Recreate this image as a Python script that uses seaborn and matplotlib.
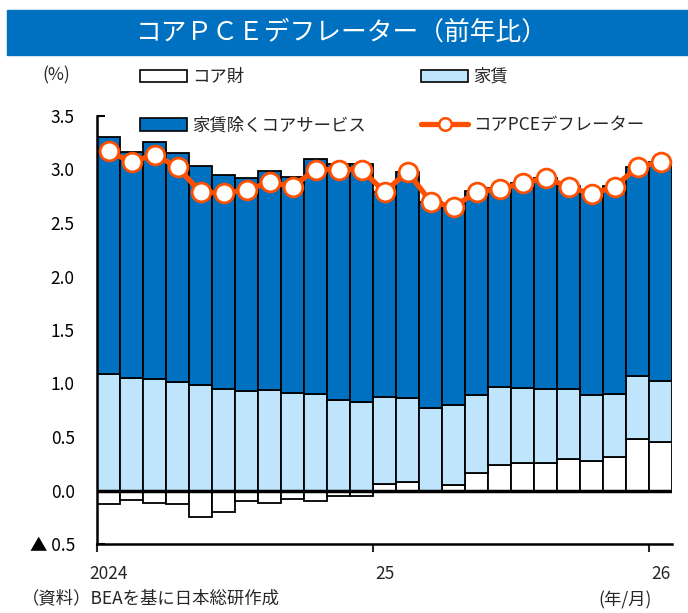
import numpy as np
import pandas as pd
import seaborn as sns
import matplotlib.pyplot as plt
from matplotlib.patches import Patch, Rectangle
from matplotlib.lines import Line2D
from matplotlib.ticker import FuncFormatter

# Data (YoY %, 2024/01 - 2026/01)
months = pd.date_range("2024-01-01", "2026-01-01", freq="MS").strftime("%Y/%m").tolist()
goods = [-0.13, -0.09, -0.12, -0.13, -0.25, -0.20, -0.10, -0.12, -0.08, -0.10, -0.05, -0.05,
         0.06, 0.08, -0.01, 0.05, 0.16, 0.24, 0.26, 0.26, 0.29, 0.28, 0.31, 0.48, 0.45]
rent = [1.09, 1.05, 1.04, 1.01, 0.99, 0.95, 0.93, 0.94, 0.91, 0.90, 0.85, 0.83,
        0.81, 0.78, 0.77, 0.75, 0.73, 0.73, 0.70, 0.69, 0.66, 0.61, 0.59, 0.59, 0.57]
services = [2.21, 2.11, 2.22, 2.14, 2.04, 2.00, 1.99, 2.05, 2.02, 2.20, 2.20, 2.22,
            1.92, 2.12, 1.93, 1.86, 1.91, 1.86, 1.91, 1.97, 1.90, 1.90, 1.95, 1.95, 2.05]
core_pce = [3.17, 3.07, 3.14, 3.02, 2.79, 2.78, 2.81, 2.88, 2.84, 3.00, 3.00, 3.00,
            2.79, 2.98, 2.70, 2.65, 2.79, 2.82, 2.87, 2.92, 2.84, 2.77, 2.84, 3.02, 3.07]
year_labels = ["2024", "25", "26"]
year_pos = [0, 12, 24]

labels = ["コア財", "家賃", "家賃除くコアサービス", "コアPCEデフレーター"]
c_goods, c_rent, c_serv, c_line = "white", "#BEE5FB", "#0070C0", "#FF5000"

df = pd.DataFrame({"month": months, "goods": goods, "rent": rent,
                   "services": services, "core": core_pce})
df["x"] = np.arange(len(df))

sns.set_theme(style="white")
plt.rcParams["font.family"] = ["Noto Sans CJK JP", "DejaVu Sans"]
FS = 12.5

fig = plt.figure(figsize=(6.88, 6.13), dpi=100)
ax = fig.add_axes([97 / 688, 1 - 544 / 613, 575 / 688, 428 / 613])

# stacked bars
rent_bottom = df["goods"].clip(lower=0)
serv_bottom = rent_bottom + df["rent"]
kw = dict(width=1.0, edgecolor="black", linewidth=1.3, zorder=2)
ax.bar(df["x"], df["goods"], color=c_goods, **kw)
ax.bar(df["x"], df["rent"], bottom=rent_bottom, color=c_rent, **kw)
ax.bar(df["x"], df["services"], bottom=serv_bottom, color=c_serv, **kw)

ax.axhline(0, color="black", lw=2.5, zorder=3)

sns.lineplot(data=df, x="x", y="core", ax=ax, color=c_line, lw=3.8,
             marker="o", markersize=13.5, markerfacecolor="white",
             markeredgecolor=c_line, markeredgewidth=2, zorder=4, legend=False)

ax.set_xlim(-0.5, len(df) - 0.5)
ax.set_ylim(-0.5, 3.5)
ax.set_yticks(np.arange(-0.5, 3.51, 0.5))
ax.yaxis.set_major_formatter(FuncFormatter(
    lambda v, p: f"▲ {abs(v):.1f}" if v < 0 else f"{v:.1f}"))
ax.tick_params(axis="y", direction="in", length=6, width=1.5, pad=16,
               labelsize=FS, left=True, colors="black")
ax.set_xticks([-0.5, 11.5, 23.5])
ax.set_xticklabels([])
ax.set_xticks(year_pos, minor=True)
ax.set_xticklabels(year_labels, minor=True)
ax.tick_params(axis="x", which="major", direction="out", length=6, width=1.5, bottom=True)
ax.tick_params(axis="x", which="minor", length=0, pad=15, labelsize=FS)
ax.set_xlabel("")
ax.set_ylabel("")
for s in ["top", "right"]:
    ax.spines[s].set_visible(False)
for s in ["left", "bottom"]:
    ax.spines[s].set_color("black")
    ax.spines[s].set_linewidth(1.8)
ax.grid(False)

# title banner
fig.patches.append(Rectangle((7 / 688, 1 - 55 / 613), 681 / 688, 45 / 613,
                             transform=fig.transFigure, color="#0070C0", zorder=0))
fig.text(342 / 688, 1 - 33 / 613, "コアＰＣＥデフレーター（前年比）", color="white",
         fontsize=18.5, ha="center", va="center")

# legend (row-major order)
h_goods = Patch(facecolor=c_goods, edgecolor="black", linewidth=1.2)
h_rent = Patch(facecolor=c_rent, edgecolor="black", linewidth=1.2)
h_serv = Patch(facecolor=c_serv, edgecolor="black", linewidth=1.2)
h_line = Line2D([], [], color=c_line, lw=3.8, marker="o", markersize=9,
                markerfacecolor="white", markeredgecolor=c_line, markeredgewidth=1.8)
fig.legend([h_goods, h_serv, h_rent, h_line],
           [labels[0], labels[2], labels[1], labels[3]],
           ncol=2, loc="upper left", bbox_to_anchor=(140 / 688, 1 - 68 / 613),
           frameon=False, fontsize=FS, handlelength=2.7, handleheight=0.75,
           handletextpad=0.3, columnspacing=3.2, labelspacing=1.75, borderpad=0,
           borderaxespad=0)

fig.text(56 / 688, 1 - 75 / 613, "(%)", fontsize=FS, ha="center", va="center")
fig.text(22 / 688, 1 - 598 / 613, "（資料）BEAを基に日本総研作成", fontsize=FS,
         ha="left", va="center")
fig.text(625 / 688, 1 - 600 / 613, "(年/月)", fontsize=FS, ha="center", va="center")

fig.savefig("out.png", dpi=100)
